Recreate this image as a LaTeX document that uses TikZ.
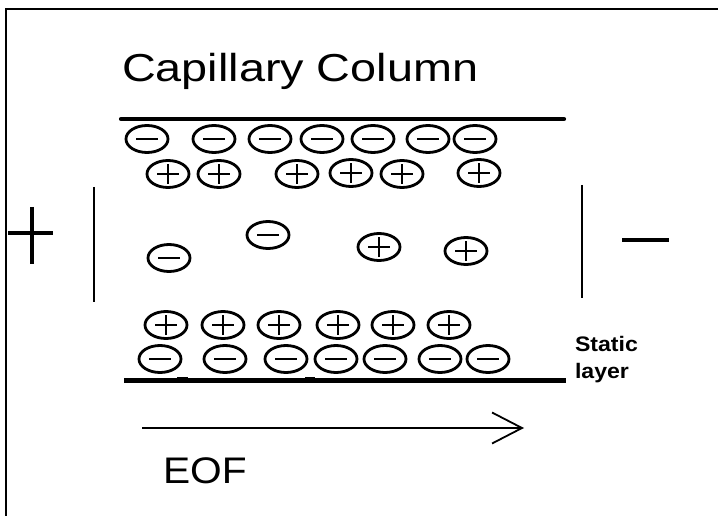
\documentclass[tikz,border=0pt]{standalone}
\usepackage{fontspec}
\usepackage{graphicx}
\setmainfont{Liberation Sans}
\usetikzlibrary{shapes.geometric,arrows.meta}

\tikzset{
  ion/.style={ellipse, draw, line width=2.8pt, minimum width=42pt,
    minimum height=27pt, inner sep=0pt},
  anion/.style={ion, path picture={
    \draw[line width=2.3pt] ([xshift=-11pt]path picture bounding box.center)
      -- ([xshift=11pt]path picture bounding box.center);}},
  cation/.style={ion, path picture={
    \draw[line width=2.3pt] ([xshift=-11pt]path picture bounding box.center)
      -- ([xshift=11pt]path picture bounding box.center);
    \draw[line width=2.3pt] ([yshift=-10pt]path picture bounding box.center)
      -- ([yshift=10pt]path picture bounding box.center);}},
  wall/.style={line width=4.2pt},
  electrode/.style={line width=2.2pt},
  pole/.style={line width=3.2pt},
  frameline/.style={line width=2.8pt},
  txt/.style={anchor=base west, inner sep=0pt, outer sep=0pt},
}

\begin{document}
\begin{tikzpicture}[x=1pt, y=-1pt]
  \useasboundingbox (0,0) rectangle (718,516);
  \fill[white] (0,0) rectangle (718,516);

  % open frame
  \coordinate (fb) at (6,516);
  \coordinate (fc) at (6,9);
  \coordinate (fr) at (718,9);
  \draw[frameline] (fb) -- (fc) -- (fr);

  % title
  \node[txt] (title) at (122,82)
    {\fontsize{39}{39}\selectfont\scalebox{1.2}[1]{Capillary Column}};

  % capillary walls
  \coordinate (tw1) at (121,119);
  \coordinate (tw2) at (564,119);
  \coordinate (bw1) at (124,380.5);
  \coordinate (bw2) at (566,380.5);
  \draw[wall, line cap=round] (tw1) -- (tw2);
  \draw[wall] (bw1) -- (bw2);

  % electrodes and poles
  \coordinate (le1) at (94,187);
  \coordinate (le2) at (94,302);
  \coordinate (re1) at (582,185);
  \coordinate (re2) at (582,298);
  \draw[electrode] (le1) -- (le2);
  \draw[electrode] (re1) -- (re2);
  \coordinate (ph1) at (8,233);
  \coordinate (ph2) at (53,233);
  \coordinate (pv1) at (32,207);
  \coordinate (pv2) at (32,264);
  \draw[pole] (ph1) -- (ph2);
  \draw[pole] (pv1) -- (pv2);
  \coordinate (m1) at (622,240);
  \coordinate (m2) at (669,240);
  \draw[pole] (m1) -- (m2);

  % fixed negative charges on the upper wall
  \node[anion] (tn1) at (147,139) {};
  \node[anion] (tn2) at (214,139) {};
  \node[anion] (tn3) at (270,139) {};
  \node[anion] (tn4) at (322,139) {};
  \node[anion] (tn5) at (373,139) {};
  \node[anion] (tn6) at (428,139) {};
  \node[anion] (tn7) at (475,139) {};
  % mobile positive layer below it
  \node[cation] (tp1) at (168,174) {};
  \node[cation] (tp2) at (219,174) {};
  \node[cation] (tp3) at (297,174) {};
  \node[cation] (tp4) at (351,173) {};
  \node[cation] (tp5) at (402,174) {};
  \node[cation] (tp6) at (479,173) {};

  % ions in the bulk solution
  \node[anion] (cn1) at (169,258) {};
  \node[anion] (cn2) at (268,235) {};
  \node[cation] (cp1) at (379,247) {};
  \node[cation] (cp2) at (466,251) {};

  % mobile positive layer above the lower wall
  \node[cation] (bp1) at (166,325) {};
  \node[cation] (bp2) at (223,325) {};
  \node[cation] (bp3) at (279,325) {};
  \node[cation] (bp4) at (338,325) {};
  \node[cation] (bp5) at (393,325) {};
  \node[cation] (bp6) at (449,325) {};
  % fixed negative charges on the lower wall
  \node[anion] (bn1) at (160,359) {};
  \node[anion] (bn2) at (225,359) {};
  \node[anion] (bn3) at (286,359) {};
  \node[anion] (bn4) at (336,359) {};
  \node[anion] (bn5) at (385,359) {};
  \node[anion] (bn6) at (440,359) {};
  \node[anion] (bn7) at (488,359) {};

  % small marks beside the lower wall ions
  \coordinate (u1a) at (177,377.5);
  \coordinate (u1b) at (188,377.5);
  \coordinate (u2a) at (305,377.5);
  \coordinate (u2b) at (315,377.5);
  \draw[line width=1pt] (u1a) -- (u1b);
  \draw[line width=1pt] (u2a) -- (u2b);

  % static layer text
  \node[txt] (static) at (575,351)
    {\fontsize{21}{21}\selectfont\bfseries\scalebox{1.1}[1]{Static}};
  \node[txt] (layer) at (575,378)
    {\fontsize{21}{21}\selectfont\bfseries\scalebox{1.1}[1]{layer}};

  % electroosmotic flow
  \coordinate (a1) at (142,428);
  \coordinate (a2) at (524,428);
  \draw[line width=1.8pt, -{Straight Barb[length=30pt, width=31pt, line width=1.8pt]}] (a1) -- (a2);
  \node[txt] (eof) at (163,483)
    {\fontsize{37}{37}\selectfont\scalebox{1.1}[1]{EOF}};
\end{tikzpicture}
\end{document}
